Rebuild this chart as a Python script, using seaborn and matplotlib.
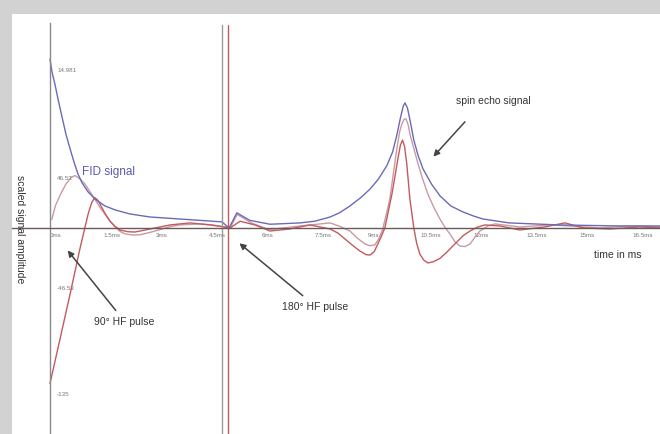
import matplotlib
matplotlib.use("Agg")
import matplotlib.pyplot as plt
import seaborn as sns

# time in ms, amplitude scaled so the FID starts at 1.0
blue_t = [0.0, 0.057, 0.14, 0.23, 0.34, 0.45, 0.57, 0.68, 0.79, 0.91, 1.08, 1.27, 1.56, 1.84,
          2.26, 2.83, 3.68, 4.53, 4.87,
          5.07, 5.29, 5.45, 5.66, 6.23, 7.08, 7.5, 7.93, 8.2, 8.49, 8.8, 9.06, 9.3, 9.54, 9.7,
          9.82, 9.92, 10.0, 10.05, 10.12, 10.2, 10.3, 10.42, 10.56, 10.8, 11.04, 11.35, 11.69,
          12.0, 12.26, 13.0, 14.4, 16.1, 17.3]
blue_amp = [1.0, 0.923, 0.85, 0.76, 0.657, 0.556, 0.467, 0.39, 0.32, 0.266, 0.213, 0.172, 0.13,
            0.107, 0.083, 0.065, 0.053, 0.041, 0.036,
            0.0, 0.09, 0.07, 0.045, 0.022, 0.03, 0.04, 0.065, 0.09, 0.13, 0.18, 0.23, 0.29, 0.37,
            0.45, 0.55, 0.65, 0.72, 0.74, 0.71, 0.63, 0.52, 0.43, 0.35, 0.26, 0.19, 0.13, 0.095,
            0.07, 0.053, 0.03, 0.018, 0.012, 0.012]

red_t = [0.0, 0.28, 0.57, 0.85, 1.08, 1.18, 1.27, 1.35, 1.42, 1.56, 1.70, 1.84, 1.98, 2.2, 2.4,
         2.6, 2.83, 3.4, 3.96, 4.53, 4.95,
         5.1, 5.38, 5.8, 6.23, 6.79, 7.36, 7.93, 8.15, 8.35, 8.55, 8.77, 8.95, 9.06, 9.18, 9.28,
         9.38, 9.48, 9.58, 9.68, 9.77, 9.85, 9.92, 9.98, 10.04, 10.1, 10.19, 10.3, 10.38, 10.47,
         10.58, 10.7, 10.85, 11.04, 11.25, 11.46, 11.7, 11.89, 12.1, 12.31, 12.74, 13.3, 14.0,
         14.58, 15.1, 15.85, 16.7, 17.3]
red_amp = [-0.92, -0.66, -0.39, -0.12, 0.083, 0.15, 0.18, 0.165, 0.14, 0.085, 0.04, 0.01, -0.012,
           -0.022, -0.024, -0.016, -0.006, 0.018, 0.03, 0.018, 0.006,
           0.0, 0.04, 0.018, -0.018, -0.006, 0.018, -0.006, -0.03, -0.065, -0.1, -0.136, -0.158,
           -0.16, -0.14, -0.095, -0.05, 0.0, 0.1, 0.2, 0.31, 0.41, 0.49, 0.52, 0.48, 0.38, 0.17,
           0.0, -0.09, -0.154, -0.19, -0.207, -0.2, -0.18, -0.14, -0.095, -0.045, -0.018, 0.005,
           0.018, 0.012, -0.012, 0.006, 0.03, 0.0, -0.006, 0.006, 0.0]

mauve_t = [0.05, 0.15, 0.3, 0.45, 0.6, 0.71, 0.85, 0.99, 1.13, 1.27, 1.42, 1.56, 1.7, 1.84, 1.98,
           2.12, 2.35, 2.55, 2.8, 3.11, 3.4, 3.68, 4.25, 4.6, 4.95,
           5.1, 5.3, 5.7, 6.2, 7.0, 7.93, 8.2, 8.49, 8.7, 8.92, 9.06, 9.2, 9.32, 9.42, 9.52, 9.62,
           9.72, 9.82, 9.9, 9.96, 10.03, 10.08, 10.14, 10.19, 10.3, 10.42, 10.55, 10.7, 10.87,
           11.04, 11.18, 11.32, 11.46, 11.6, 11.75, 11.89, 12.03, 12.17, 12.4, 12.6, 13.3, 14.15,
           14.7, 15.57, 16.4, 17.3]
mauve_amp = [0.05, 0.13, 0.2, 0.26, 0.3, 0.31, 0.29, 0.26, 0.215, 0.17, 0.12, 0.08, 0.04, 0.006,
             -0.02, -0.035, -0.042, -0.04, -0.028, -0.01, 0.008, 0.018, 0.024, 0.018, 0.005,
             0.0, 0.08, 0.03, -0.01, 0.01, 0.03, 0.01, -0.018, -0.06, -0.095, -0.105, -0.1, -0.06,
             -0.006, 0.08, 0.17, 0.32, 0.47, 0.57, 0.615, 0.645, 0.645, 0.61, 0.556, 0.47, 0.38,
             0.29, 0.2, 0.12, 0.053, 0.005, -0.035, -0.08, -0.107, -0.11, -0.095, -0.055, -0.018,
             0.012, 0.024, 0.006, 0.018, 0.012, 0.0, 0.012, 0.006]

tick_t = [0, 1.5, 3, 4.5, 6, 7.5, 9, 10.5, 12, 13.5, 15, 16.5]
tick_labels = ["0ms", "1.5ms", "3ms", "4.5ms", "6ms", "7.5ms", "9ms", "10.5ms", "12ms",
               "13.5ms", "15ms", "16.5ms"]
ytick_vals = [0.94, 0.30, -0.35, -0.98]
ytick_labels = ["14.981", "46.53", "-46.53", "-135"]

pulse_t = 5.04

sns.set_theme(style="white")
plt.rcParams['font.family'] = ['Liberation Sans', 'DejaVu Sans']

fig = plt.figure(figsize=(6.6, 4.35), dpi=100)
fig.patch.set_facecolor('#d2d2d2')
ax = fig.add_axes([12 / 660, 0, 648 / 660, 420 / 435])
ax.set_facecolor('white')

sns.lineplot(x=mauve_t, y=mauve_amp, sort=False, color='#c99aa4', lw=1.0, ax=ax)
sns.lineplot(x=red_t, y=red_amp, sort=False, color='#c45a5e', lw=1.0, ax=ax)
sns.lineplot(x=blue_t, y=blue_amp, sort=False, color='#6a6ab8', lw=1.0, ax=ax)

ax.axvline(4.87, ymin=0.0, ymax=0.975, color='#9a9a9a', lw=1.0)
ax.axvline(pulse_t, ymin=0.0, ymax=0.975, color='#c45a5e', lw=1.0)

ax.set_xlim(-1.076, 17.27)
ax.set_ylim(-1.219, 1.266)

for s in ['top', 'right']:
    ax.spines[s].set_visible(False)
ax.spines['left'].set_position(('data', 0))
ax.spines['bottom'].set_position(('data', 0))
ax.spines['left'].set_bounds(-1.219, 1.21)
ax.spines['left'].set_color('#8a8a8a')
ax.spines['bottom'].set_color('#6a5a5a')
ax.spines['left'].set_linewidth(1.0)
ax.spines['bottom'].set_linewidth(1.0)

ax.set_xticks(tick_t)
ax.set_xticklabels(tick_labels, fontsize=4.5, color='#777777', ha='left')
ax.set_yticks(ytick_vals)
ax.set_yticklabels([])
for v, lab in zip(ytick_vals, ytick_labels):
    ax.text(0.2, v, lab, fontsize=4.5, color='#777777', va='center', ha='left')
ax.tick_params(axis='x', direction='out', length=2, pad=1, color='#888888')
ax.tick_params(axis='y', direction='out', length=2, color='#888888')

ax.text(0.9, 0.32, "FID signal", color='#5a5ab4', fontsize=8.5)
ax.text(11.5, 0.74, "spin echo signal", color='#333333', fontsize=7.5)
ax.text(15.4, -0.17, "time in ms", color='#333333', fontsize=7.5)
ax.text(-0.85, 0.0, "scaled signal amplitude", color='#333333', fontsize=7.5,
        rotation=270, va='center', ha='center')

arrow = dict(arrowstyle='-|>', color='#444444', lw=1.1, mutation_scale=9)
ax.annotate("90° HF pulse", xy=(0.45, -0.12), xytext=(2.1, -0.55), fontsize=7.5,
            color='#333333', ha='center', va='center', arrowprops=arrow)
ax.annotate("180° HF pulse", xy=(5.3, -0.08), xytext=(7.5, -0.46), fontsize=7.5,
            color='#333333', ha='center', va='center', arrowprops=arrow)
ax.annotate("", xy=(10.8, 0.41), xytext=(11.8, 0.64), arrowprops=arrow)

fig.savefig("out.png", dpi=100, facecolor=fig.get_facecolor())
